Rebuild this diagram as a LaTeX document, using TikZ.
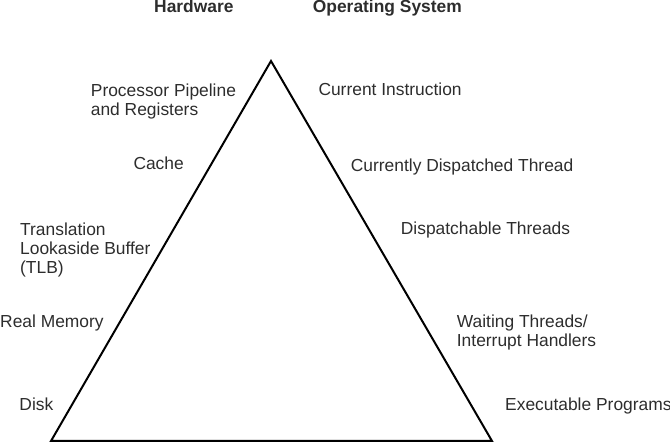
\documentclass[tikz,border=0pt]{standalone}
\usepackage{fontspec}
\setmainfont{Liberation Sans}
\usepackage{xcolor}
\usepackage{tikz}
\usetikzlibrary{positioning}
\definecolor{textgray}{RGB}{45, 45, 45}

\begin{document}
\begin{tikzpicture}[
    x=1pt, y=-1pt,
    label/.style={anchor=base west, inner sep=0pt, align=left, text=textgray,
                  font=\fontsize{17.4}{19}\selectfont},
    heading/.style={label, font=\fontsize{17.4}{19}\selectfont\bfseries},
    edge/.style={draw=black, line width=2pt, line join=miter}
]
\useasboundingbox (0,0) rectangle (670,443);

\node[heading] (hw) at (154, 13) {Hardware};
\node[heading] (os) at (312.7, 13) {Operating System};

\coordinate (top) at (271, 61);
\coordinate (bl)  at (51, 441);
\coordinate (br)  at (492, 441);
\draw[edge] (top) -- (bl) -- (br) -- cycle;

% multi-line labels sit on their last baseline
\node[label] (pipe)  at (90.7, 115.5) {Processor Pipeline\\and Registers};
\node[label] (cache) at (133.3, 170) {Cache};
\node[label] (tlb)   at (20, 273.5) {Translation\\Lookaside Buffer\\(TLB)};
\node[label] (mem)   at (0, 328)    {Real Memory};
\node[label] (disk)  at (19.3, 411) {Disk};

\node[label] (instr)   at (318.3, 96)  {Current Instruction};
\node[label] (dthread) at (350.7, 171.7) {Currently Dispatched Thread};
\node[label] (threads) at (400.7, 235) {Dispatchable Threads};
\node[label] (waiting) at (456.7, 347) {Waiting Threads/\\Interrupt Handlers};
\node[label] (progs)   at (505, 411) {Executable Programs};

\end{tikzpicture}
\end{document}
